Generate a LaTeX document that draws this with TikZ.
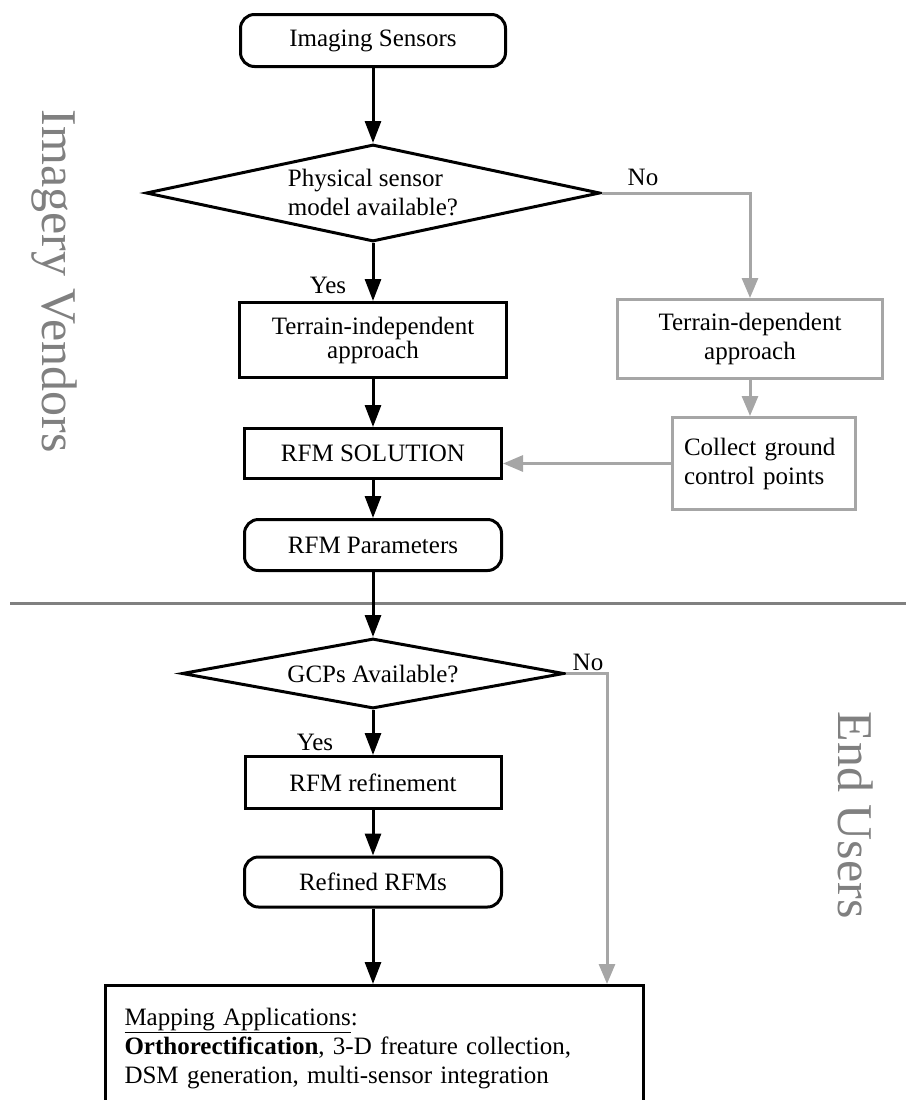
\documentclass[tikz,border=0pt]{standalone}
\usepackage{fontspec}
\setmainfont{Liberation Serif}
\usetikzlibrary{shapes.geometric,arrows.meta}
\definecolor{sidegray}{RGB}{128,128,128}
\definecolor{linegray}{RGB}{166,166,166}
\begin{document}
\begin{tikzpicture}[x=1pt,y=-1pt,
	every node/.style={font=\fontsize{25}{29}\selectfont},
	box/.style={draw,line width=3pt,rectangle,align=center,inner sep=4pt},
	term/.style={box,rounded corners=14pt},
	decision/.style={draw,line width=3pt,diamond,inner sep=0pt,align=left},
	graybox/.style={draw=linegray,line width=3pt,rectangle},
	flow/.style={line width=3pt,-{Triangle[length=22pt,width=16pt]}},
	grayflow/.style={draw=linegray,line width=3pt,-{Triangle[length=20pt,width=16pt]}},
	side/.style={text=sidegray,font=\fontsize{50}{50}\selectfont,rotate=-90,inner sep=0pt}]
	\useasboundingbox (0,0) rectangle (906,1100);
	
	% imagery vendors part
	\node[term,minimum width=265pt,minimum height=52pt] at (373,40.5) (sensors) {Imaging Sensors};
	\node[decision,aspect=4.57,minimum width=454pt,minimum height=97pt] at (373,193) (avail) {Physical sensor\\model available?};
	\node[box,minimum width=267pt,minimum height=75pt,font=\fontsize{25}{24}\selectfont] at (373,340) (indep) {Terrain-independent\\approach};
	\node[box,minimum width=257pt,minimum height=50pt] at (373,453.5) (sol) {RFM SOLUTION};
	\node[term,minimum width=257pt,minimum height=51pt] at (373,545) (params) {RFM Parameters};
	\node[graybox,align=center,minimum width=265pt,minimum height=79pt] at (750,339) (tdep) {Terrain-dependent\\approach};
	\node[graybox,align=left,text width=160pt,minimum width=183pt,minimum height=92pt] at (764,463.5) (collect) {Collect ground\\control points};
	\node at (643,177) (no1) {No};
	\node at (328,285) (yes1) {Yes};
	
	\draw[flow] (sensors.south) -- (avail.north);
	\draw[flow] (avail.south) -- (indep.north);
	\draw[flow] (indep.south) -- (sol.north);
	\draw[flow] (sol.south) -- (params.north);
	\draw[grayflow] (avail.east) -| (tdep.north);
	\draw[grayflow] (tdep.south) -- (tdep.south |- collect.north);
	\draw[grayflow] (collect.west) -- (collect.west -| sol.east);
	
	% divider
	\draw[sidegray,line width=3pt] (10,603) -- (906,603);
	\node[side] at (54.5,281) (vendors) {Imagery Vendors};
	\node[side] at (856,815) (users) {End Users};
	
	% end users part
	\node[decision,aspect=5.27,minimum width=382pt,minimum height=70pt] at (373,673.5) (gcp) {GCPs Available?};
	\node[box,minimum width=256pt,minimum height=52pt] at (373,782.5) (refine) {RFM refinement};
	\node[term,minimum width=257pt,minimum height=50pt] at (373,882) (refined) {Refined RFMs};
	\node[box,anchor=north west,align=left,text width=500pt,inner xsep=19pt,minimum height=126pt] at (104,984) (map) {\underline{Mapping Applications}:\\\textbf{Orthorectification}, 3-D freature collection,\\DSM generation, multi-sensor integration};
	\node at (588,662) (no2) {No};
	\node at (315,742) (yes2) {Yes};
	\coordinate (noturn) at (607,673.5);
	
	\draw[flow] (params.south) -- (gcp.north);
	\draw[flow] (gcp.south) -- (refine.north);
	\draw[flow] (refine.south) -- (refined.north);
	\draw[flow] (refined.south) -- (refined.south |- map.north);
	\draw[grayflow] (gcp.east) -- (noturn) -- (noturn |- map.north);
\end{tikzpicture}
\end{document}
